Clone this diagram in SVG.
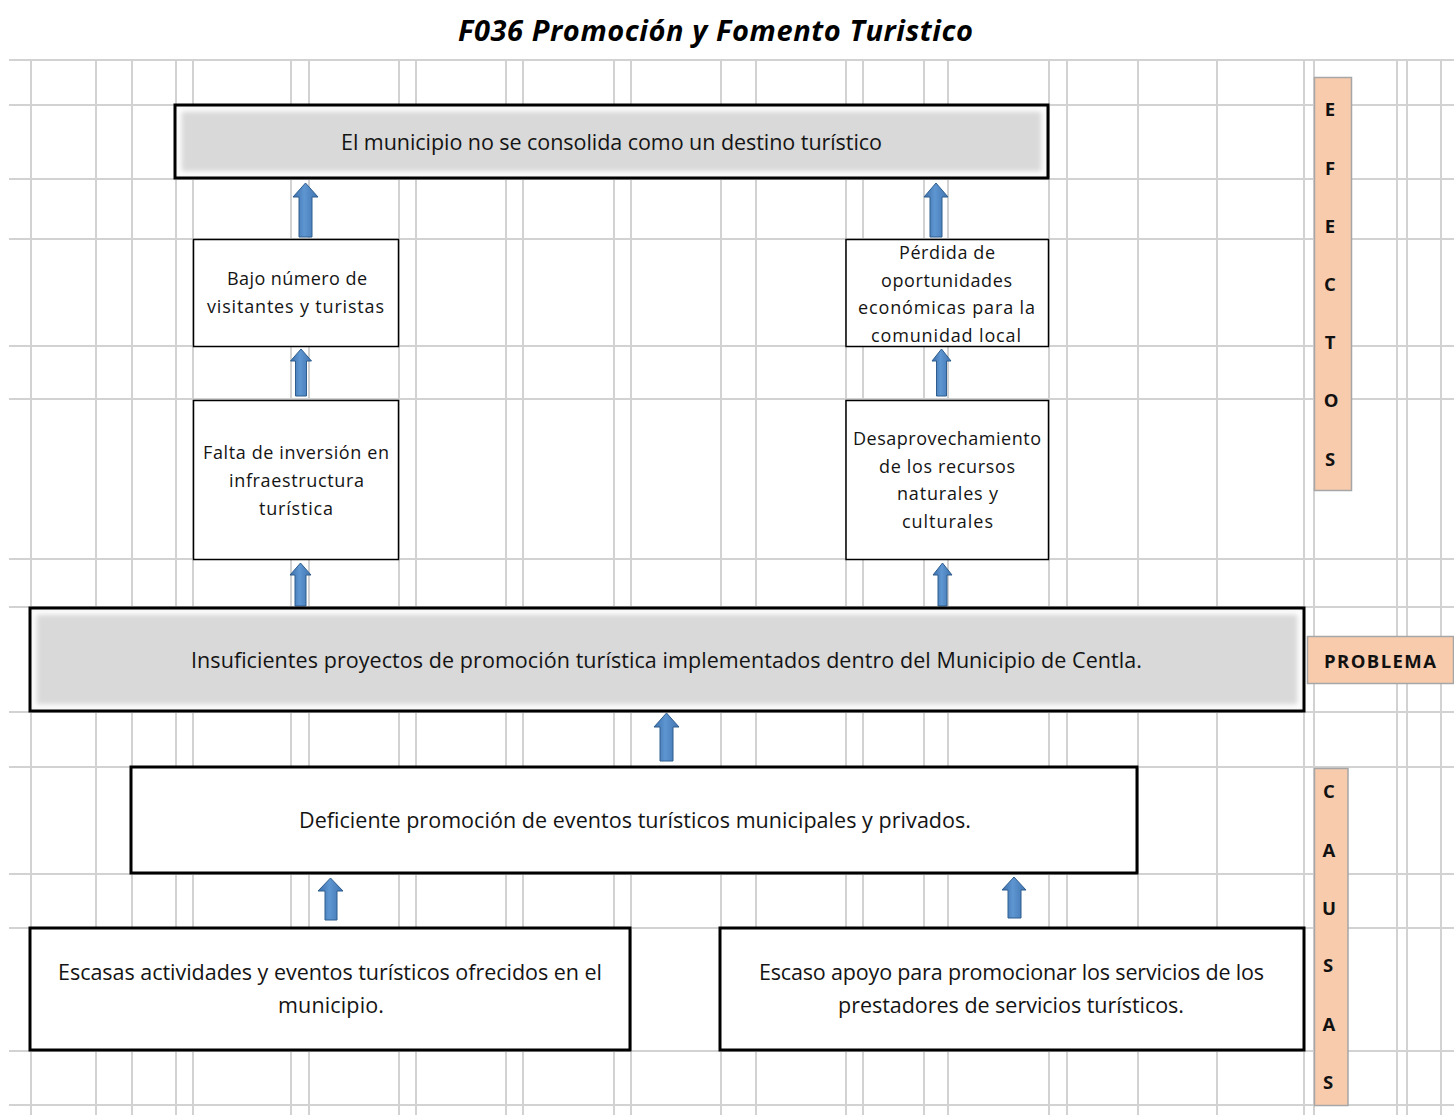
<svg xmlns="http://www.w3.org/2000/svg" width="1454" height="1115" viewBox="0 0 1454 1115">
  <defs>
    <style>
      .grid line { stroke: #d2d2d2; stroke-width: 2; }
      .box { fill: #ffffff; stroke: #000000; }
      .thin { stroke-width: 1.5; }
      .thick { stroke-width: 3; }
      .grayfill { fill: #d9d9d9; }
      .glow { fill: none; stroke: #ffffff; stroke-width: 7; filter: url(#soft); }
      .t { font-family: "Open Sans", "Noto Sans", "DejaVu Sans", sans-serif; fill: #141414; text-anchor: middle; }
      .big { font-size: 21.5px; }
      .small { font-size: 18px; }
      .title { font-family: "Open Sans", "Noto Sans", "DejaVu Sans", sans-serif; font-size: 29px; font-weight: bold; font-style: italic; fill: #000; text-anchor: middle; }
      .side { fill: #f8cbad; stroke: #a6a6a6; stroke-width: 1.5; }
      .sl { font-family: "Open Sans", "Noto Sans", "DejaVu Sans", sans-serif; font-size: 18.5px; font-weight: bold; fill: #111; text-anchor: middle; }
      .arrow { fill: url(#blue); stroke: #2e5d8e; stroke-width: 1; }
    </style>
    <linearGradient id="blue" x1="0" y1="0" x2="1" y2="0">
      <stop offset="0" stop-color="#3a6ea8"/>
      <stop offset="0.45" stop-color="#5e96d2"/>
      <stop offset="1" stop-color="#3f74b0"/>
    </linearGradient>
    <filter id="soft" x="-5%" y="-20%" width="110%" height="140%">
      <feGaussianBlur stdDeviation="2.5"/>
    </filter>
    <clipPath id="clipTop"><rect x="175" y="105" width="873" height="73"/></clipPath>
    <clipPath id="clipProb"><rect x="30" y="608" width="1274" height="103"/></clipPath>
  </defs>

  <rect x="0" y="0" width="1454" height="1115" fill="#ffffff"/>

  <g id="grid" class="grid">
    <line x1="9" y1="60" x2="1454" y2="60"/>
    <line x1="9" y1="105" x2="1454" y2="105"/>
    <line x1="9" y1="179" x2="1454" y2="179"/>
    <line x1="9" y1="239" x2="1454" y2="239"/>
    <line x1="9" y1="346" x2="1454" y2="346"/>
    <line x1="9" y1="399" x2="1454" y2="399"/>
    <line x1="9" y1="559" x2="1454" y2="559"/>
    <line x1="9" y1="607" x2="1454" y2="607"/>
    <line x1="9" y1="712" x2="1454" y2="712"/>
    <line x1="9" y1="767" x2="1454" y2="767"/>
    <line x1="9" y1="874" x2="1454" y2="874"/>
    <line x1="9" y1="928" x2="1454" y2="928"/>
    <line x1="9" y1="1051" x2="1454" y2="1051"/>
    <line x1="9" y1="1105" x2="1454" y2="1105"/>
    <line x1="31" y1="60" x2="31" y2="1115"/>
    <line x1="96" y1="60" x2="96" y2="1115"/>
    <line x1="132" y1="60" x2="132" y2="1115"/>
    <line x1="176" y1="60" x2="176" y2="1115"/>
    <line x1="193" y1="60" x2="193" y2="1115"/>
    <line x1="291" y1="60" x2="291" y2="1115"/>
    <line x1="309" y1="60" x2="309" y2="1115"/>
    <line x1="399" y1="60" x2="399" y2="1115"/>
    <line x1="416" y1="60" x2="416" y2="1115"/>
    <line x1="506" y1="60" x2="506" y2="1115"/>
    <line x1="523" y1="60" x2="523" y2="1115"/>
    <line x1="614" y1="60" x2="614" y2="1115"/>
    <line x1="631" y1="60" x2="631" y2="1115"/>
    <line x1="721" y1="60" x2="721" y2="1115"/>
    <line x1="756" y1="60" x2="756" y2="1115"/>
    <line x1="846" y1="60" x2="846" y2="1115"/>
    <line x1="863" y1="60" x2="863" y2="1115"/>
    <line x1="924" y1="60" x2="924" y2="1115"/>
    <line x1="948" y1="60" x2="948" y2="1115"/>
    <line x1="1049" y1="60" x2="1049" y2="1115"/>
    <line x1="1067" y1="60" x2="1067" y2="1115"/>
    <line x1="1138" y1="60" x2="1138" y2="1115"/>
    <line x1="1217" y1="60" x2="1217" y2="1115"/>
    <line x1="1304" y1="60" x2="1304" y2="1115"/>
    <line x1="1314" y1="60" x2="1314" y2="1115"/>
    <line x1="1397" y1="60" x2="1397" y2="1115"/>
    <line x1="1407" y1="60" x2="1407" y2="1115"/>
    <line x1="1441" y1="60" x2="1441" y2="1115"/>
  </g>

  <text id="title" class="title" x="715.5" y="41" textLength="515">F036 Promoción y Fomento Turistico</text>

  <g id="connectors">
    <path class="arrow" d="M305.5,183 L318,197 L312,197 L312,237 L299,237 L299,197 L293,197 Z"/>
    <path class="arrow" d="M936,183 L948,197 L942,197 L942,237 L930,237 L930,197 L924,197 Z"/>
    <path class="arrow" d="M301,349 L311.5,361 L306.5,361 L306.5,396 L295.5,396 L295.5,361 L290.5,361 Z"/>
    <path class="arrow" d="M941.5,349 L951,361 L946.5,361 L946.5,396 L936.5,396 L936.5,361 L932,361 Z"/>
    <path class="arrow" d="M300.5,563 L311,575 L306,575 L306,606 L295,606 L295,575 L290,575 Z"/>
    <path class="arrow" d="M942.5,563 L952,575 L947,575 L947,606 L938,606 L938,575 L933,575 Z"/>
    <path class="arrow" d="M666.5,713 L679,727 L673,727 L673,761 L660,761 L660,727 L654,727 Z"/>
    <path class="arrow" d="M330.5,878 L343,891 L337,891 L337,920 L325,920 L325,891 L318,891 Z"/>
    <path class="arrow" d="M1014,877 L1026,890 L1021,890 L1021,918 L1008,918 L1008,890 L1002,890 Z"/>
  </g>

  <g id="efecto-principal">
    <rect class="grayfill" x="175" y="105" width="873" height="73"/>
    <rect class="glow" x="178" y="108" width="867" height="67" clip-path="url(#clipTop)"/>
    <rect x="175" y="105" width="873" height="73" fill="none" stroke="#000" stroke-width="3"/>
    <text class="t big" x="611.5" y="150" textLength="541">El municipio no se consolida como un destino turístico</text>
  </g>

  <g id="efecto-bajo">
    <rect class="box thin" x="193.5" y="239.5" width="205" height="107"/>
    <text class="t small" x="297" y="285" textLength="140">Bajo número de</text>
    <text class="t small" x="295.5" y="313" textLength="177">visitantes y turistas</text>
  </g>

  <g id="efecto-falta">
    <rect class="box thin" x="193.5" y="400.5" width="205" height="159"/>
    <text class="t small" x="296" y="459" textLength="186">Falta de inversión en</text>
    <text class="t small" x="296.5" y="487" textLength="135">infraestructura</text>
    <text class="t small" x="296" y="515" textLength="74">turística</text>
  </g>

  <g id="efecto-perdida">
    <rect class="box thin" x="846" y="239.5" width="202.5" height="107"/>
    <text class="t small" x="947" y="259" textLength="96">Pérdida de</text>
    <text class="t small" x="946.5" y="287" textLength="131">oportunidades</text>
    <text class="t small" x="946.5" y="314" textLength="177">económicas para la</text>
    <text class="t small" x="946" y="342" textLength="150">comunidad local</text>
  </g>

  <g id="efecto-desaprovechamiento">
    <rect class="box thin" x="846" y="400.5" width="202.5" height="159"/>
    <text class="t small" x="947" y="445" textLength="188">Desaprovechamiento</text>
    <text class="t small" x="947" y="473" textLength="136">de los recursos</text>
    <text class="t small" x="947.5" y="500" textLength="101">naturales y</text>
    <text class="t small" x="947.5" y="528" textLength="91">culturales</text>
  </g>

  <g id="problema">
    <rect class="grayfill" x="30" y="608" width="1274" height="103"/>
    <rect class="glow" x="33" y="611" width="1268" height="97" clip-path="url(#clipProb)"/>
    <rect x="30" y="608" width="1274" height="103" fill="none" stroke="#000" stroke-width="3"/>
    <text class="t big" x="666.5" y="668" textLength="951">Insuficientes proyectos de promoción turística implementados dentro del Municipio de Centla.</text>
  </g>

  <g id="causa-deficiente">
    <rect class="box thick" x="131" y="767" width="1006" height="106"/>
    <text class="t big" x="635" y="828" textLength="672">Deficiente promoción de eventos turísticos municipales y privados.</text>
  </g>

  <g id="causa-escasas">
    <rect class="box thick" x="30" y="928" width="600" height="122"/>
    <text class="t big" x="330" y="980" textLength="544">Escasas actividades y eventos turísticos ofrecidos en el</text>
    <text class="t big" x="331" y="1013" textLength="106">municipio.</text>
  </g>

  <g id="causa-escaso">
    <rect class="box thick" x="720" y="928" width="584" height="122"/>
    <text class="t big" x="1011.5" y="980" textLength="505">Escaso apoyo para promocionar los servicios de los</text>
    <text class="t big" x="1011" y="1013" textLength="346">prestadores de servicios turísticos.</text>
  </g>

  <g id="label-efectos">
    <rect class="side" x="1314.5" y="77.5" width="37" height="413"/>
    <text class="sl" x="1330" y="116">E</text>
    <text class="sl" x="1330" y="175">F</text>
    <text class="sl" x="1330" y="233">E</text>
    <text class="sl" x="1330" y="291">C</text>
    <text class="sl" x="1330" y="349">T</text>
    <text class="sl" x="1331" y="407">O</text>
    <text class="sl" x="1330" y="466">S</text>
  </g>

  <g id="label-problema">
    <rect class="side" x="1307.5" y="636.5" width="146" height="47"/>
    <text class="sl" x="1380" y="668" font-size="20" textLength="112">PROBLEMA</text>
  </g>

  <g id="label-causas">
    <rect class="side" x="1314.5" y="768.5" width="33.5" height="337"/>
    <text class="sl" x="1329" y="798">C</text>
    <text class="sl" x="1329" y="857">A</text>
    <text class="sl" x="1329" y="915">U</text>
    <text class="sl" x="1328" y="972">S</text>
    <text class="sl" x="1329" y="1031">A</text>
    <text class="sl" x="1328" y="1089">S</text>
  </g>
</svg>
